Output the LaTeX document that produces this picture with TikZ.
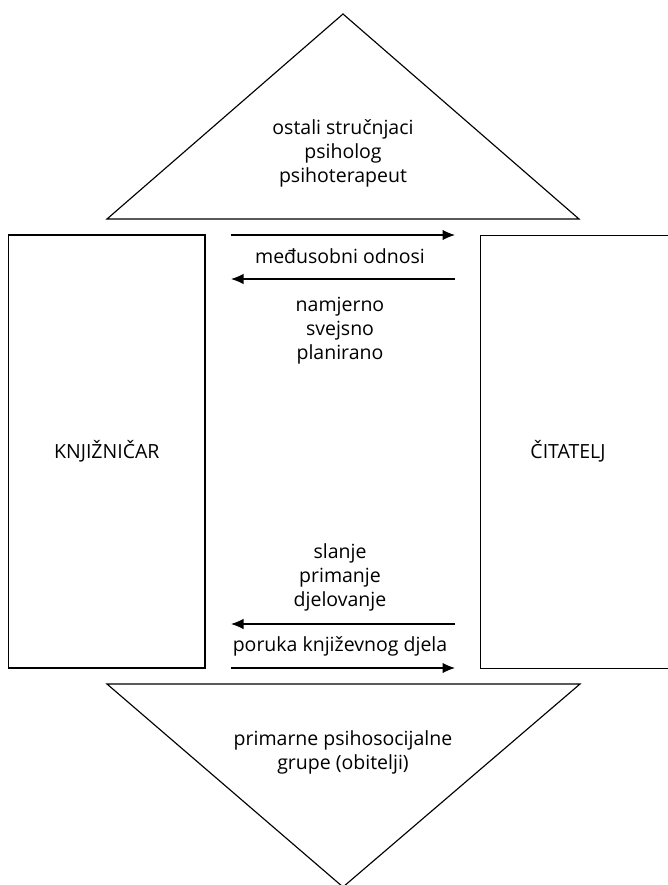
\documentclass[tikz,border=0pt]{standalone}
\usepackage{fontspec}
\setmainfont{Open Sans}
\usepackage{tikz}
\usetikzlibrary{arrows.meta}

\tikzset{
  box/.style={draw, line width=0.65pt, rectangle, minimum width=3.93cm, minimum height=8.66cm, inner sep=0pt},
  txt/.style={align=center, font=\fontsize{11.1}{13.7}\selectfont},
  arr/.style={line width=0.65pt, -{Latex[length=0.25cm, width=0.21cm]}}
}

\begin{document}
\begin{tikzpicture}[x=0.02cm, y=-0.02cm]
\useasboundingbox (0,0) rectangle (668,885);
\clip (0,0) rectangle (668,885);

% top and bottom triangles
\draw[line width=0.65pt] (343,14) -- (579,219) -- (107,219) -- cycle;
\draw[line width=0.65pt] (107,684) -- (580,684) -- (343,887) -- cycle;
\node[txt] (strucnjaci) at (343,153) {ostali stručnjaci\\psiholog\\psihoterapeut};
\node[txt] (grupe) at (343,752) {primarne psihosocijalne\\grupe (obitelji)};

% the two boxes
\node[box] (knj) at (106.8,451.5) {};
\node[txt] (knjlabel) at (knj.center) {KNJIŽNIČAR};
\node[box, minimum width=4cm, anchor=north west] (cit) at (480,235) {};
\node[txt] (citlabel) at (568,451.5) {ČITATELJ};

% arrows between the boxes
\coordinate (a1l) at (231,235); \coordinate (a1r) at (455,235);
\coordinate (a2l) at (231,279); \coordinate (a2r) at (455,279);
\coordinate (a3l) at (231,624); \coordinate (a3r) at (455,624);
\coordinate (a4l) at (231,668); \coordinate (a4r) at (455,668);
\draw[arr] (a1l) -- (a1r);
\draw[arr] (a2r) -- (a2l);
\draw[arr] (a3r) -- (a3l);
\draw[arr] (a4l) -- (a4r);

\node[txt] (odnosi) at (340,256) {međusobni odnosi};
\node[txt] (namjerno) at (340,331) {namjerno\\svejsno\\planirano};
\node[txt] (slanje) at (340,577) {slanje\\primanje\\djelovanje};
\node[txt] (poruka) at (340,646) {poruka književnog djela};
\end{tikzpicture}
\end{document}
